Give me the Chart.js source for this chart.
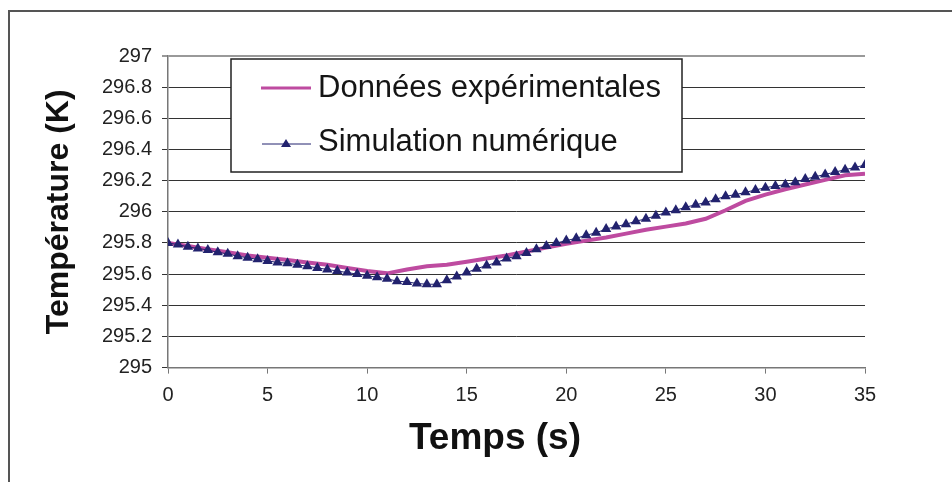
<!DOCTYPE html>
<html>
<head>
<meta charset="utf-8">
<script src="https://cdn.jsdelivr.net/npm/chart.js@4/dist/chart.umd.min.js"></script>
<style>
  html, body { margin: 0; padding: 0; background: #fff; }
  canvas { display: block; }
</style>
</head>
<body>
<canvas id="myChart" width="952" height="482"></canvas>
<script>
// experimental data, one value per second (0..35 s)
const expTimes = [0,1,2,3,4,5,6,7,8,9,10,11,12,13,14,15,16,17,18,19,20,21,22,23,24,25,26,27,28,29,30,31,32,33,34,35];
const expTemps = [295.80,295.78,295.76,295.74,295.72,295.705,295.69,295.675,295.66,295.64,295.62,295.605,
  295.63,295.65,295.66,295.68,295.70,295.72,295.745,295.77,295.795,295.815,295.835,295.86,295.885,295.905,
  295.925,295.955,296.01,296.07,296.11,296.145,296.175,296.205,296.235,296.245];

// simulation, every 0.5 s
const simTimes = [0,0.5,1,1.5,2,2.5,3,3.5,4,4.5,5,5.5,6,6.5,7,7.5,8,8.5,9,9.5,10,10.5,11,11.5,12,12.5,13,13.5,
  14,14.5,15,15.5,16,16.5,17,17.5,18,18.5,19,19.5,20,20.5,21,21.5,22,22.5,23,23.5,24,24.5,25,25.5,26,26.5,
  27,27.5,28,28.5,29,29.5,30,30.5,31,31.5,32,32.5,33,33.5,34,34.5,35];
const simTemps = [295.80,295.79,295.775,295.765,295.755,295.74,295.73,295.715,295.705,295.695,295.685,295.675,
  295.67,295.66,295.65,295.64,295.63,295.62,295.61,295.60,295.59,295.58,295.57,295.555,295.55,295.54,295.535,
  295.535,295.56,295.585,295.61,295.635,295.655,295.675,295.70,295.715,295.735,295.76,295.78,295.80,295.815,
  295.83,295.85,295.865,295.89,295.905,295.92,295.94,295.955,295.975,295.995,296.01,296.03,296.045,296.06,
  296.08,296.10,296.11,296.125,296.14,296.155,296.165,296.175,296.19,296.21,296.225,296.24,296.255,296.27,
  296.285,296.30];

const legendLabels = ['Données expérimentales', 'Simulation numérique'];
const xTitle = 'Temps (s)';
const expColor = '#BE4BA0';
const simColor = '#22226E';
const FONT = "'Liberation Sans', Arial, sans-serif";

const toXY = (xs, ys) => xs.map((x, i) => ({x: x, y: ys[i]}));

// frame, x title and floating legend box
const decor = {
  id: 'decor',
  afterDraw(chart) {
    const c = chart.ctx;
    c.save();
    c.strokeStyle = '#555';
    c.lineWidth = 2;
    c.beginPath();
    c.moveTo(9, 482); c.lineTo(9, 11); c.lineTo(952, 11);
    c.stroke();

    c.fillStyle = '#111';
    c.font = 'bold 37px ' + FONT;
    c.textAlign = 'center';
    c.textBaseline = 'middle';
    c.fillText(xTitle, 495, 439);

    c.fillStyle = '#fff';
    c.fillRect(231, 59, 451, 113);
    c.strokeStyle = '#222';
    c.lineWidth = 1.5;
    c.strokeRect(231, 59, 451, 113);

    c.strokeStyle = expColor;
    c.lineWidth = 3;
    c.beginPath(); c.moveTo(261, 88); c.lineTo(311, 88); c.stroke();

    c.strokeStyle = simColor;
    c.lineWidth = 1;
    c.beginPath(); c.moveTo(262, 144); c.lineTo(311, 144); c.stroke();
    c.fillStyle = simColor;
    c.beginPath(); c.moveTo(286, 139); c.lineTo(291, 147); c.lineTo(281, 147); c.closePath(); c.fill();

    c.fillStyle = '#151515';
    c.font = '31px ' + FONT;
    c.textAlign = 'left';
    c.fillText(legendLabels[0], 318, 88);
    c.fillText(legendLabels[1], 318, 142);
    c.restore();
  }
};

new Chart(document.getElementById('myChart'), {
  type: 'line',
  data: {
    datasets: [
      {
        label: legendLabels[1],
        data: toXY(simTimes, simTemps),
        borderColor: simColor,
        backgroundColor: simColor,
        borderWidth: 1,
        pointStyle: 'triangle',
        pointRadius: 6,
        pointBorderWidth: 0,
        tension: 0
      },
      {
        label: legendLabels[0],
        data: toXY(expTimes, expTemps),
        borderColor: expColor,
        borderWidth: 4,
        pointRadius: 0,
        tension: 0
      }
    ]
  },
  options: {
    responsive: false,
    animation: false,
    devicePixelRatio: 1,
    layout: { padding: { left: 40, top: 56, right: 87, bottom: 24 } },
    plugins: { legend: { display: false }, tooltip: { enabled: false } },
    scales: {
      x: {
        type: 'linear',
        min: 0, max: 35,
        afterFit: (s) => { s.height = 90.4; },
        ticks: { stepSize: 5, color: '#222', padding: 10, maxRotation: 0, font: { family: FONT, size: 20 } },
        grid: { drawOnChartArea: false, drawTicks: true, tickLength: 6, color: '#777' },
        border: { display: true, color: '#777', width: 1.5 }
      },
      y: {
        min: 295, max: 297,
        afterFit: (s) => { s.width = 128; },
        ticks: {
          stepSize: 0.2, color: '#222', padding: 10,
          font: { family: FONT, size: 20 },
          callback: (v) => String(parseFloat(v.toFixed(1)))
        },
        grid: {
          tickLength: 6,
          color: (ctx) => (ctx.tick && ctx.tick.value === 297 ? '#999' : '#333'),
          lineWidth: (ctx) => (ctx.tick && ctx.tick.value === 297 ? 2 : 1)
        },
        border: { display: true, color: '#777', width: 1.5 },
        title: { display: true, text: 'Température (K)', color: '#111', padding: 0, font: { family: FONT, size: 32, weight: 'bold' } }
      }
    }
  },
  plugins: [decor]
});
</script>
</body>
</html>
